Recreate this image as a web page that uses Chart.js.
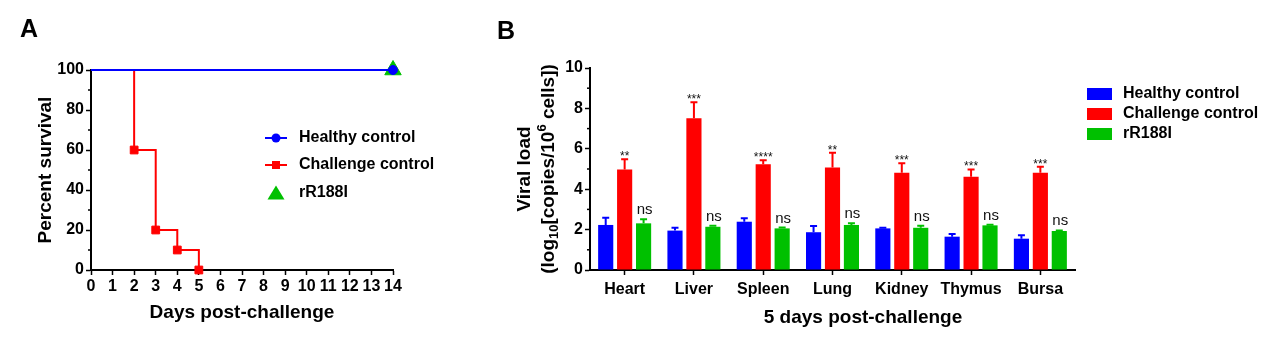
<!DOCTYPE html>
<html><head><meta charset="utf-8">
<script src="https://cdn.jsdelivr.net/npm/chart.js@4.4.1/dist/chart.umd.min.js"></script>
<style>
html,body{margin:0;padding:0;background:#fff;}
#wrap{position:relative;width:1269px;height:337px;overflow:hidden;background:#fff;}
canvas{position:absolute;left:0;top:0;}
</style></head><body>
<div id="wrap"><canvas id="cA" width="1269" height="337"></canvas><canvas id="cB" width="1269" height="337"></canvas></div>
<script>
// ---------- Panel A data (Kaplan-Meier survival) ----------
const seriesNames = ['Healthy control', 'Challenge control', 'rR188I'];
const healthyDays = [0, 14];
const healthySurvival = [100, 100];
const challengeDays = [0, 2, 3, 4, 5];
const challengeSurvival = [100, 60, 20, 10, 0];
const rR188IDays = [0, 14];
const rR188ISurvival = [100, 100];
const dayTicks = [0, 1, 2, 3, 4, 5, 6, 7, 8, 9, 10, 11, 12, 13, 14];
const survivalTicks = [0, 20, 40, 60, 80, 100];
const survivalMinor = [10, 30, 50, 70, 90];

// ---------- Panel B data (viral load, mean + SEM) ----------
const organs = ['Heart', 'Liver', 'Spleen', 'Lung', 'Kidney', 'Thymus', 'Bursa'];
const healthyLoad = [2.23, 1.95, 2.39, 1.87, 2.06, 1.65, 1.55];
const healthySEM = [0.36, 0.14, 0.17, 0.31, 0.03, 0.13, 0.17];
const challengeLoad = [4.98, 7.51, 5.23, 5.08, 4.82, 4.62, 4.82];
const challengeSEM = [0.50, 0.79, 0.20, 0.73, 0.46, 0.36, 0.29];
const rR188ILoad = [2.31, 2.14, 2.06, 2.23, 2.09, 2.21, 1.93];
const rR188ISEM = [0.20, 0.05, 0.04, 0.08, 0.10, 0.03, 0.03];
const challengeSig = ['**', '***', '****', '**', '***', '***', '***'];
const rR188ISig = ['ns', 'ns', 'ns', 'ns', 'ns', 'ns', 'ns'];
const loadTicks = [0, 2, 4, 6, 8, 10];
const loadMinor = [1, 3, 5, 7, 9];

const BLUE = '#0000FF', RED = '#FF0000', GREEN = '#00C000';
const FONT = "'Liberation Sans', Arial, Helvetica, sans-serif";
Chart.defaults.font.family = FONT;
Chart.defaults.color = '#000';

function xy(xs, ys) { return xs.map((x, i) => ({x: x, y: ys[i]})); }
function setTicks(arr) { return s => { s.ticks = arr.map(v => ({value: v})); }; }

const minorTicks = {
  id: 'minorTicks',
  afterDraw(chart) {
    const s = chart.scales.y, ctx = chart.ctx;
    const vals = chart.canvas.id === 'cA' ? survivalMinor : loadMinor;
    ctx.save();
    ctx.strokeStyle = '#000'; ctx.lineWidth = 1.5;
    vals.forEach(v => {
      const y = s.getPixelForValue(v);
      ctx.beginPath(); ctx.moveTo(s.right - 3, y); ctx.lineTo(s.right, y); ctx.stroke();
    });
    ctx.restore();
  }
};

const panelLabel = {
  id: 'panelLabel',
  afterDraw(chart) {
    const ctx = chart.ctx;
    ctx.save();
    ctx.fillStyle = '#000';
    ctx.font = 'bold 25px ' + FONT;
    ctx.textBaseline = 'alphabetic'; ctx.textAlign = 'left';
    if (chart.canvas.id === 'cA') ctx.fillText('A', 20, 37);
    else ctx.fillText('B', 497, 39);
    ctx.restore();
  }
};

const legendA = {
  id: 'legendA',
  afterDraw(chart) {
    const ctx = chart.ctx;
    const rows = [
      {y: 138, c: BLUE, s: 'circle'},
      {y: 165, c: RED, s: 'rect'},
      {y: 193, c: GREEN, s: 'triangle'}
    ];
    ctx.save();
    rows.forEach((r, i) => {
      ctx.strokeStyle = r.c; ctx.fillStyle = r.c; ctx.lineWidth = 2;
      if (r.s !== 'triangle') {
        ctx.beginPath(); ctx.moveTo(265, r.y); ctx.lineTo(287, r.y); ctx.stroke();
      }
      ctx.beginPath();
      if (r.s === 'circle') ctx.arc(276, r.y, 4.5, 0, Math.PI * 2);
      else if (r.s === 'rect') ctx.rect(272, r.y - 4, 8, 8);
      else { ctx.moveTo(276, r.y - 7.5); ctx.lineTo(284.5, r.y + 6.5); ctx.lineTo(267.5, r.y + 6.5); ctx.closePath(); }
      ctx.fill();
      ctx.fillStyle = '#000';
      ctx.font = 'bold 16px ' + FONT;
      ctx.textBaseline = 'middle'; ctx.textAlign = 'left';
      ctx.fillText(seriesNames[i], 299, r.y);
    });
    ctx.restore();
  }
};

new Chart(document.getElementById('cA'), {
  type: 'line',
  data: {
    datasets: [
      {label: seriesNames[0], data: xy(healthyDays, healthySurvival), borderColor: BLUE, backgroundColor: BLUE,
       borderWidth: 2, stepped: true, pointStyle: 'circle', pointBorderWidth: 1,
       pointRadius: c => c.dataIndex === healthyDays.length - 1 ? 4.5 : 0, clip: false},
      {label: seriesNames[1], data: xy(challengeDays, challengeSurvival), borderColor: RED, backgroundColor: RED,
       borderWidth: 2, stepped: true, pointStyle: 'rect', pointBorderWidth: 1,
       pointRadius: c => c.dataIndex === 0 ? 0 : 5.5, clip: false},
      {label: seriesNames[2], data: xy(rR188IDays, rR188ISurvival), borderColor: GREEN, backgroundColor: GREEN,
       borderWidth: 2, stepped: true, pointStyle: 'triangle', pointBorderWidth: 1,
       pointRadius: c => c.dataIndex === rR188IDays.length - 1 ? 9.5 : 0, clip: false}
    ]
  },
  options: {
    responsive: false, animation: false, events: [],
    layout: {padding: {left: 0, top: 70, right: 876, bottom: 0}},
    plugins: {legend: {display: false}, tooltip: {enabled: false}},
    scales: {
      x: {
        type: 'linear', min: 0, max: 14,
        afterBuildTicks: setTicks(dayTicks),
        afterFit: s => { s.height = 67; },
        grid: {display: true, drawOnChartArea: false, drawTicks: true, tickLength: 5, tickColor: '#000', tickWidth: 1.5},
        border: {display: true, color: '#000', width: 2},
        ticks: {font: {size: 16, weight: 'bold'}, padding: 2, maxRotation: 0, autoSkip: false, color: '#000'},
        title: {display: true, text: 'Days post-challenge', font: {size: 19, weight: 'bold'}, padding: {top: 0, bottom: 13}, color: '#000'}
      },
      y: {
        type: 'linear', min: 0, max: 100,
        afterBuildTicks: setTicks(survivalTicks),
        afterFit: s => { s.width = 91; },
        grid: {display: true, drawOnChartArea: false, drawTicks: true, tickLength: 5, tickColor: '#000', tickWidth: 1.5},
        border: {display: true, color: '#000', width: 2},
        ticks: {font: {size: 16, weight: 'bold'}, padding: 2, color: '#000'},
        title: {display: true, text: 'Percent survival', font: {size: 19, weight: 'bold'}, padding: {top: 34, bottom: 0}, color: '#000'}
      }
    }
  },
  plugins: [minorTicks, legendA, panelLabel]
});

// ---------- Panel B ----------
const errorBars = {
  id: 'errorBars',
  afterDatasetsDraw(chart) {
    const ctx = chart.ctx, ys = chart.scales.y;
    const vals = [healthyLoad, challengeLoad, rR188ILoad];
    const sems = [healthySEM, challengeSEM, rR188ISEM];
    const sigs = [null, challengeSig, rR188ISig];
    ctx.save();
    chart.data.datasets.forEach((ds, i) => {
      const meta = chart.getDatasetMeta(i);
      meta.data.forEach((bar, j) => {
        const top = ys.getPixelForValue(vals[i][j] + sems[i][j]);
        ctx.strokeStyle = ds.backgroundColor; ctx.lineWidth = 2;
        ctx.beginPath();
        ctx.moveTo(bar.x, bar.y); ctx.lineTo(bar.x, top);
        ctx.moveTo(bar.x - 3.5, top); ctx.lineTo(bar.x + 3.5, top);
        ctx.stroke();
        if (sigs[i]) {
          const t = sigs[i][j];
          ctx.fillStyle = '#111';
          ctx.textAlign = 'center'; ctx.textBaseline = 'alphabetic';
          if (t === 'ns') { ctx.font = '15px ' + FONT; ctx.fillText(t, bar.x + 1, top - 5); }
          else { ctx.font = '12px ' + FONT; ctx.fillText(t, bar.x, top + 1); }
        }
      });
    });
    ctx.restore();
  }
};

const decorB = {
  id: 'decorB',
  afterDraw(chart) {
    const ctx = chart.ctx;
    ctx.save();
    // legend
    const cols = [BLUE, RED, GREEN], ly = [94, 114, 134];
    ly.forEach((y, i) => {
      ctx.fillStyle = cols[i];
      ctx.fillRect(1087, y - 6, 25, 12);
      ctx.fillStyle = '#000';
      ctx.font = 'bold 16px ' + FONT;
      ctx.textBaseline = 'middle'; ctx.textAlign = 'left';
      ctx.fillText(seriesNames[i], 1123, y);
    });
    // x-axis title
    ctx.font = 'bold 19px ' + FONT;
    ctx.textAlign = 'center'; ctx.textBaseline = 'alphabetic';
    ctx.fillText('5 days post-challenge', 863, 322.5);
    // y-axis title (two lines, with subscript / superscript)
    const cy = (chart.chartArea.top + chart.chartArea.bottom) / 2;
    function line(runs, bx) {
      ctx.save();
      ctx.translate(bx, cy);
      ctx.rotate(-Math.PI / 2);
      ctx.textAlign = 'left'; ctx.textBaseline = 'alphabetic';
      let total = 0;
      runs.forEach(r => { ctx.font = 'bold ' + r.size + 'px ' + FONT; r.w = ctx.measureText(r.t).width; total += r.w; });
      let pos = -total / 2;
      runs.forEach(r => { ctx.font = 'bold ' + r.size + 'px ' + FONT; ctx.fillText(r.t, pos, r.dy); pos += r.w; });
      ctx.restore();
    }
    line([{t: 'Viral load', size: 19, dy: 0}], 530);
    line([
      {t: '(log', size: 19, dy: 0},
      {t: '10', size: 13, dy: 4},
      {t: '[copies/10', size: 19, dy: 0},
      {t: '6', size: 13, dy: -8},
      {t: ' cells])', size: 19, dy: 0}
    ], 554);
    ctx.restore();
  }
};

new Chart(document.getElementById('cB'), {
  type: 'bar',
  data: {
    labels: organs,
    datasets: [
      {label: seriesNames[0], data: healthyLoad, backgroundColor: BLUE},
      {label: seriesNames[1], data: challengeLoad, backgroundColor: RED},
      {label: seriesNames[2], data: rR188ILoad, backgroundColor: GREEN}
    ]
  },
  options: {
    responsive: false, animation: false, events: [],
    categoryPercentage: 0.82, barPercentage: 0.8,
    layout: {padding: {left: 0, top: 68, right: 194, bottom: 0}},
    plugins: {legend: {display: false}, tooltip: {enabled: false}},
    scales: {
      x: {
        afterFit: s => { s.height = 67; },
        grid: {display: true, offset: false, drawOnChartArea: false, drawTicks: true, tickLength: 5, tickColor: '#000', tickWidth: 1.5},
        border: {display: true, color: '#000', width: 2},
        ticks: {font: {size: 16, weight: 'bold'}, padding: 5, maxRotation: 0, autoSkip: false, color: '#000'}
      },
      y: {
        type: 'linear', min: 0, max: 10,
        afterBuildTicks: setTicks(loadTicks),
        afterFit: s => { s.width = 590; },
        grid: {display: true, drawOnChartArea: false, drawTicks: true, tickLength: 5, tickColor: '#000', tickWidth: 1.5},
        border: {display: true, color: '#000', width: 2},
        ticks: {font: {size: 16, weight: 'bold'}, padding: 2, color: '#000'}
      }
    }
  },
  plugins: [errorBars, minorTicks, decorB, panelLabel]
});
</script>
</body></html>
